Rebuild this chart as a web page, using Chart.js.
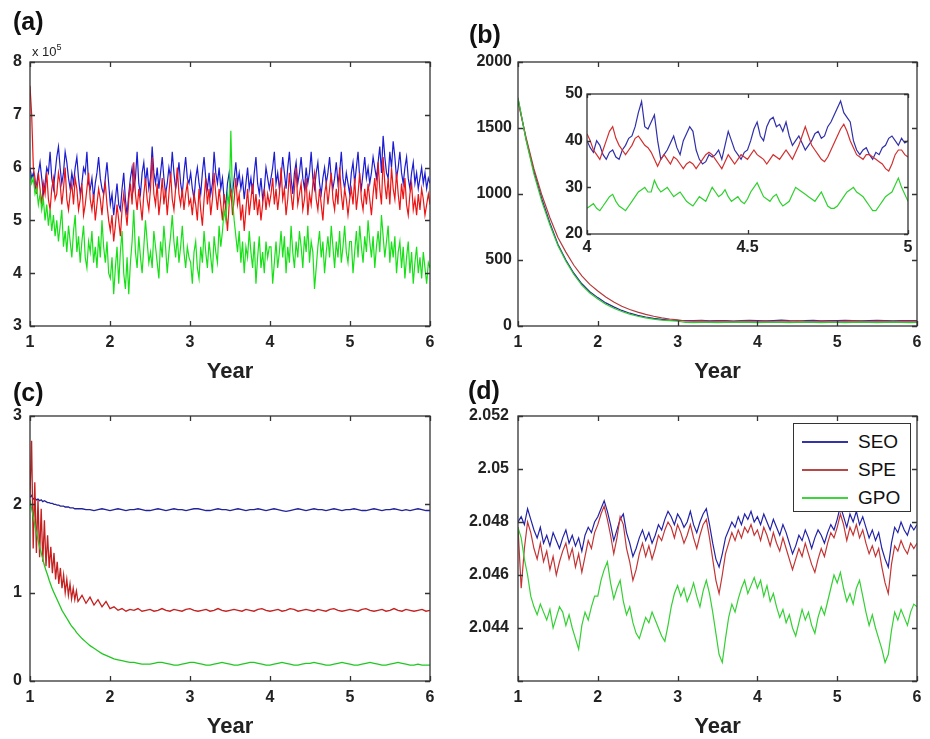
<!DOCTYPE html>
<html><head><meta charset="utf-8">
<script src="https://cdn.jsdelivr.net/npm/chart.js@4.4.0/dist/chart.umd.min.js"></script>
<style>
html,body{margin:0;padding:0;background:#fff;}
body{width:930px;height:739px;position:relative;overflow:hidden;font-family:"Liberation Sans",Arial,sans-serif;color:#111;}
canvas{position:absolute;}
.plab{position:absolute;font-weight:bold;font-size:25px;line-height:1;color:#111;z-index:5;}
#mult{position:absolute;left:32px;top:43px;font-size:13px;line-height:1;color:#222;z-index:5;}
#mult sup{font-size:9px;vertical-align:6px;}
#leg{position:absolute;left:793px;top:423px;width:116px;height:87px;border:1.5px solid #333;background:#fff;z-index:6;}
#leg .row{position:absolute;left:0;height:24px;width:116px;}
#leg .ln{position:absolute;left:8px;top:11px;width:46px;height:0;border-top:2px solid;}
#leg .tx{position:absolute;left:64px;top:0;font-size:19px;line-height:24px;color:#111;}
</style></head><body>
<canvas id="ca" width="465" height="392" style="left:0;top:0"></canvas>
<canvas id="cb" width="485" height="392" style="left:445px;top:0"></canvas>
<canvas id="cbi" width="370" height="185" style="left:550px;top:80px"></canvas>
<canvas id="cc" width="465" height="347" style="left:0;top:392px"></canvas>
<canvas id="cd" width="485" height="347" style="left:445px;top:392px"></canvas>
<div class="plab" style="left:13px;top:9px">(a)</div>
<div class="plab" style="left:469px;top:22px">(b)</div>
<div class="plab" style="left:13px;top:380px">(c)</div>
<div class="plab" style="left:468px;top:378px">(d)</div>
<div id="mult">x 10<sup>5</sup></div>
<div id="leg">
  <div class="row" style="top:6px"><div class="ln" style="border-color:#3434a8"></div><div class="tx">SEO</div></div>
  <div class="row" style="top:34px"><div class="ln" style="border-color:#b84848"></div><div class="tx">SPE</div></div>
  <div class="row" style="top:62px"><div class="ln" style="border-color:#3cd63c"></div><div class="tx">GPO</div></div>
</div>
<script>
// ---------- DATA ----------
const seriesNames = ['SEO', 'SPE', 'GPO'];
const xTicksYear = [1, 2, 3, 4, 5, 6];

// (a) values in units of 10^5, 48 samples per year
const aSEO = [6.0,5.8,5.9,5.6,5.7,5.9,6.1,5.8, 5.5,5.7,6.0,5.9,6.3,5.8,5.6,5.9, 6.2,6.4,6.0,5.7,5.9,6.3,6.1,5.8, 5.6,5.9,5.7,6.0,6.2,5.8,5.5,5.7, 6.0,5.9,6.3,5.7,5.6,5.8,5.4,5.7, 5.9,6.2,5.8,5.6,5.5,5.8,6.1,5.7,
5.3,5.5,5.1,5.4,5.7,5.3,5.2,5.6, 5.9,5.4,5.1,5.5,5.8,6.0,5.6,5.8, 6.3,5.7,5.5,5.9,6.1,5.7,6.0,5.6, 5.8,6.4,5.9,5.7,6.0,5.6,5.9,6.2, 5.8,5.5,5.7,6.0,5.8,6.3,5.9,5.6, 5.8,6.1,5.7,5.5,5.9,6.2,5.8,5.7,
5.9,5.6,5.4,5.8,6.0,5.7,5.5,5.9, 6.2,5.8,5.6,5.9,5.5,5.7,6.3,5.9, 5.7,6.0,5.6,5.8,5.4,5.3,5.7,5.9, 5.6,5.5,5.8,6.1,5.7,5.9,5.6,5.8, 5.4,5.7,6.0,5.6,5.8,5.5,5.9,6.2, 5.7,5.5,5.8,5.4,5.6,6.0,5.8,5.6,
5.8,6.0,6.3,5.7,5.9,5.6,5.8,6.2, 5.9,5.6,6.0,6.3,5.8,5.5,5.9,6.1, 5.7,5.9,6.2,5.8,5.6,6.0,5.7,5.9, 6.3,5.8,5.6,5.9,6.1,5.7,5.5,5.8, 6.0,5.7,5.9,6.2,5.8,5.6,5.8,6.1, 5.7,5.9,6.3,5.8,5.6,5.9,5.7,5.5,
5.9,6.1,5.7,6.0,6.3,5.8,5.6,5.9, 6.2,5.8,6.0,5.7,5.9,6.2,6.0,5.8, 6.1,6.4,5.9,6.6,6.2,5.9,5.8,6.3, 6.0,6.5,6.2,5.8,6.0,6.3,5.9,5.7, 6.0,6.2,5.8,5.6,5.9,6.1,5.7,5.9, 5.6,5.8,6.0,5.7,5.9,5.6,5.8,5.7];
const aSPE = [7.55,7.0,6.0,5.8,5.5,5.9,5.6,5.3, 5.7,5.5,5.9,5.4,5.2,5.6,5.8,5.4, 5.5,5.9,5.7,5.3,5.6,6.0,5.4,5.2, 5.5,5.7,5.3,5.8,5.6,5.2,5.4,5.7, 5.1,5.3,5.6,5.9,5.4,5.2,5.5,5.0, 5.3,5.6,5.4,5.1,5.5,5.7,5.3,5.0,
4.8,5.1,4.6,4.9,5.3,5.0,4.7,5.2, 5.5,5.2,4.9,5.4,5.7,5.3,6.1,5.5, 5.2,5.6,5.3,5.0,5.5,5.8,5.4,5.2, 5.6,6.2,5.5,5.3,5.7,5.1,5.4,5.8, 5.3,5.6,5.1,5.5,5.9,5.4,5.2,5.6, 6.0,5.5,5.3,5.6,5.2,5.5,5.7,5.3,
5.4,5.1,5.5,5.3,5.0,5.6,5.2,4.9, 5.4,5.8,5.3,5.6,5.1,5.4,5.9,5.5, 5.2,5.6,5.3,5.0,5.5,5.2,4.8,5.3, 5.6,5.1,5.4,5.8,5.3,5.5,5.0,5.3, 4.8,5.2,5.6,5.1,5.4,5.7,5.2,5.5, 5.1,5.4,5.0,5.3,5.6,5.2,5.5,5.3,
5.5,5.8,5.3,5.6,5.2,5.5,6.0,5.4, 5.6,5.1,5.4,5.9,5.5,5.2,5.6,6.0, 5.3,5.5,5.7,5.2,5.4,5.8,5.1,5.5, 5.3,5.7,5.9,5.4,5.2,5.6,5.3,5.0, 5.5,5.7,5.3,5.6,5.9,5.4,5.2,5.6, 5.3,6.0,5.5,5.2,5.6,5.4,5.1,5.4,
5.6,5.3,5.8,5.2,5.5,5.9,5.4,5.2, 5.6,5.3,5.7,5.4,5.1,5.5,5.8,5.4, 6.1,5.6,5.3,6.2,5.7,5.4,5.8,5.3, 6.0,5.6,5.4,5.9,5.5,5.2,5.7,5.4, 5.8,5.3,5.1,5.5,5.7,5.2,5.4,5.1, 5.5,5.2,5.6,5.4,5.1,5.3,5.5,5.3];
const aGPO = [5.9,5.7,5.8,5.5,5.6,5.3,5.5,5.2, 5.4,5.0,5.3,4.9,5.2,4.8,5.1,4.7, 5.0,4.6,4.9,5.2,4.5,4.8,4.4,4.9, 4.6,4.3,4.8,5.1,4.4,4.7,4.2,4.6, 4.9,4.3,4.1,4.6,4.4,4.8,4.2,4.5, 4.1,4.7,4.3,5.0,4.5,4.2,4.6,4.0,
3.9,4.3,3.6,4.1,4.5,3.8,4.4,4.8, 4.0,3.7,4.3,3.6,4.2,4.6,5.2,4.4, 4.1,4.7,4.3,4.0,4.5,5.0,4.6,4.2, 4.4,4.1,4.8,4.5,4.2,3.9,4.6,4.3, 4.9,4.5,4.0,4.4,4.7,5.1,4.6,4.3, 4.7,4.2,4.5,4.9,4.4,4.1,4.5,4.3,
4.2,3.8,4.4,4.6,4.1,3.9,4.5,4.2, 4.8,4.4,4.1,4.6,4.3,4.0,4.7,4.4, 4.2,4.9,4.5,4.8,5.2,5.0,5.5,5.3, 6.7,5.4,5.0,4.7,4.4,4.8,4.2,4.6, 4.0,4.5,4.3,4.8,4.4,4.1,4.6,3.8, 4.3,4.7,4.1,4.4,4.0,4.6,4.3,4.5,
4.5,3.8,4.2,4.6,4.1,4.4,4.8,4.3, 4.7,4.0,4.5,4.2,4.9,4.4,4.1,4.6, 4.3,4.8,4.5,4.1,4.7,4.4,4.9,4.2, 4.6,4.4,3.7,4.1,4.5,4.8,4.3,4.6, 4.0,4.4,4.7,4.3,4.9,4.5,4.1,4.6, 4.3,4.8,4.2,4.5,4.9,4.4,4.2,4.6,
4.6,4.0,4.4,4.8,4.3,4.9,4.5,4.2, 4.7,4.4,5.0,4.6,4.3,4.7,4.1,4.5, 4.8,4.4,5.1,4.7,4.3,4.6,4.9,4.2, 4.6,4.3,4.7,4.0,4.4,4.6,4.1,4.5, 3.9,4.3,4.6,4.0,4.4,3.8,4.2,4.5, 4.0,4.3,3.9,4.4,4.1,3.8,4.2,4.1];

// (b) sampled every 0.1 year from 1 to 6
const bSEO = [1720,1420,1170,960,780,620,500,400,320,260,215,175,145,118,97,80,68,58,50,45,42,
41,40,42,39,40,41,38,40,42,40,39,41,44,40,38,40,42,39,41,40,43,41,39,40,42,40,39,41,40,40];
const bSPE = [1700,1430,1190,990,820,670,560,460,380,315,265,220,182,150,125,105,88,74,62,53,47,
38,37,39,36,37,38,36,37,38,36,37,36,38,37,40,37,36,37,38,36,37,39,37,36,38,37,36,37,38,37];
const bGPO = [1730,1410,1150,940,765,610,490,390,310,250,205,165,135,110,90,74,62,52,45,40,36,
27,26,28,27,26,28,27,29,27,26,28,27,28,26,27,29,27,26,28,27,26,28,29,27,26,28,30,27,26,27];

// (b) inset, year 4 to 5 every 0.01
const insetSEO = [40,38.5,37.5,40,39,37,36,37.5,38,36.5,36,38,39,40.5,41,43,46,48.4,43,42.5,
44,45.5,40,36,37,38,39.5,41,38.5,37,40,41.5,43,42,38,36,35,35.5,37,36.5,
37,38,36,39,42,40,38,37,36,37.5,38,40,42.5,44,41,40,43,44.5,45,43,
43.5,42,44,41,39,40,41,39.5,38,39,40,41.5,42,40.5,41,43,44,45.5,47,48.5,
46,45,44,40,38,37,38,38.5,37,36,37.5,37,38.5,39,40.5,41,40,39,40.5,39.5,40];
const insetSPE = [41.5,40,38,37,36,38,40,42,43,40.5,39,38,37,38,39,40.5,41,40,39,38.5,
37.5,36,34.5,36,37,36,35,36.5,36,35,34,35,35.5,35,34,35,36,37,37.5,37,
36,35,34,35.5,37,36,35,36,37,36.5,36,37,38,37,36.5,36,35,36,37,36.5,
36,37,38,37,36,37.5,39,41,43,41,39,38,37,36,35.5,36.5,38,39.5,41,42.5,
43.5,42,40,38.5,37,36.5,36,37,37,36.5,36,35.5,35,34,33.5,35,37,38,38,37,36.5];
const insetGPO = [25.5,26,26.5,25.5,25,26,27,28,28.5,27,26,25.5,25,26,27,28,29,29.5,30,29,
29,31.5,30,29,29.5,30,29,28,28.5,29,28,27,26.5,26,27,28,27.5,27,28.5,30,
29,28,28.5,29.5,28,27,27.5,28,27,26.5,27.5,29,30,31,29.5,28,27.5,27,28,28.5,
27,26,26.5,27,28.5,30,29.5,29,28.5,28,27.5,27,28,29,27.5,26,25.5,25.5,26,27,
28,29,29.5,30,29,28.5,28,27,26,25,25,26,27,28,28.5,29,30.5,32,30,28.5,27];

// (c) first 31 samples every 0.02 year (1.00-1.60), then every 0.05 year (1.65-6.00)
const cSEO = [2.08,2.10,2.06,2.07,2.05,2.06,2.04,2.05,2.03,2.04,2.03,2.02,2.02,2.01,2.01,2.00,2.00,1.99,1.99,1.98,1.98,1.98,1.97,1.97,1.97,1.96,1.96,1.96,1.95,1.95,1.95,
1.95,1.94,1.94,1.93,1.94,1.95,1.94,1.93,1.94,1.95,1.94,1.93,1.94,1.94,1.95,1.94,1.93,1.93,1.94,1.95,
1.94,1.93,1.94,1.95,1.94,1.94,1.93,1.94,1.95,1.95,1.94,1.93,1.93,1.94,1.95,1.94,1.94,1.93,1.94,1.95,
1.94,1.93,1.94,1.94,1.95,1.94,1.93,1.94,1.95,1.94,1.93,1.92,1.93,1.94,1.95,1.94,1.93,1.94,1.95,1.94,
1.94,1.93,1.94,1.95,1.94,1.93,1.94,1.94,1.95,1.94,1.93,1.93,1.94,1.95,1.94,1.93,1.94,1.94,1.95,1.94,
1.93,1.94,1.93,1.94,1.95,1.94,1.93,1.93];
const cSPE = [2.10,2.72,1.50,2.25,1.45,2.05,1.40,1.95,1.35,1.82,1.30,1.65,1.28,1.52,1.22,1.45,1.15,1.35,1.10,1.28,1.05,1.20,1.00,1.15,0.97,1.10,0.93,1.05,0.92,1.02,0.90,
0.97,0.88,0.95,0.86,0.92,0.84,0.90,0.82,0.84,0.80,0.82,0.79,0.81,0.80,0.82,0.79,0.80,0.81,0.79,0.80,
0.82,0.80,0.79,0.81,0.80,0.79,0.81,0.82,0.80,0.79,0.80,0.81,0.79,0.80,0.82,0.80,0.79,0.80,0.81,0.80,
0.79,0.81,0.80,0.79,0.81,0.82,0.80,0.79,0.80,0.81,0.79,0.80,0.82,0.81,0.79,0.80,0.81,0.80,0.79,0.81,
0.80,0.79,0.81,0.82,0.80,0.79,0.80,0.81,0.80,0.79,0.81,0.82,0.80,0.79,0.80,0.81,0.79,0.80,0.82,0.80,
0.79,0.81,0.80,0.79,0.80,0.81,0.79,0.80];
const cGPO = [2.05,1.95,1.86,1.77,1.68,1.60,1.52,1.45,1.38,1.31,1.25,1.20,1.14,1.09,1.04,1.00,0.96,0.92,0.88,0.84,0.80,0.77,0.74,0.71,0.68,0.65,0.62,0.60,0.58,0.55,0.53,
0.48,0.44,0.40,0.37,0.34,0.31,0.29,0.27,0.25,0.24,0.23,0.22,0.21,0.21,0.20,0.19,0.19,0.19,0.20,0.21,
0.21,0.20,0.19,0.18,0.18,0.19,0.20,0.21,0.21,0.20,0.19,0.18,0.18,0.19,0.20,0.21,0.20,0.19,0.18,0.18,
0.19,0.20,0.21,0.21,0.20,0.19,0.18,0.18,0.19,0.20,0.21,0.20,0.19,0.18,0.18,0.19,0.20,0.20,0.21,0.20,
0.19,0.18,0.18,0.19,0.20,0.21,0.20,0.19,0.18,0.18,0.19,0.20,0.21,0.20,0.19,0.18,0.18,0.19,0.20,0.21,
0.20,0.19,0.18,0.18,0.19,0.18,0.18,0.18];

// (d) sampled every 0.04 year from 1 to 6
const dSEO = [2.0480,2.0482,2.0479,2.0485,2.0481,2.0477,2.0474,2.0478,2.0472,2.0475,2.0471,2.0476,2.0473,2.0470,2.0474,2.0477,2.0472,2.0475,2.0471,2.0474,2.0469,2.0475,2.0478,2.0476,2.0480,
2.0482,2.0485,2.0488,2.0484,2.0479,2.0473,2.0477,2.0481,2.0483,2.0476,2.0472,2.0467,2.0470,2.0474,2.0477,2.0473,2.0476,2.0472,2.0475,2.0479,2.0477,2.0481,2.0484,2.0482,2.0479,
2.0483,2.0481,2.0478,2.0480,2.0484,2.0479,2.0476,2.0480,2.0483,2.0485,2.0479,2.0472,2.0466,2.0463,2.0468,2.0474,2.0477,2.0480,2.0478,2.0482,2.0479,2.0483,2.0481,2.0484,2.0480,
2.0482,2.0479,2.0483,2.0480,2.0477,2.0481,2.0478,2.0475,2.0479,2.0476,2.0472,2.0468,2.0471,2.0475,2.0473,2.0477,2.0474,2.0470,2.0474,2.0477,2.0475,2.0472,2.0476,2.0479,2.0477,
2.0481,2.0486,2.0482,2.0478,2.0483,2.0480,2.0484,2.0479,2.0482,2.0478,2.0474,2.0477,2.0473,2.0476,2.0470,2.0466,2.0463,2.0472,2.0478,2.0476,2.0480,2.0477,2.0475,2.0479,2.0477,
2.0479];
const dSPE = [2.0478,2.0455,2.0470,2.0480,2.0476,2.0470,2.0466,2.0472,2.0465,2.0469,2.0462,2.0467,2.0460,2.0465,2.0469,2.0472,2.0466,2.0470,2.0463,2.0468,2.0461,2.0467,2.0473,2.0470,2.0476,
2.0479,2.0483,2.0486,2.0481,2.0475,2.0468,2.0474,2.0482,2.0479,2.0470,2.0465,2.0458,2.0462,2.0468,2.0472,2.0467,2.0471,2.0466,2.0470,2.0475,2.0473,2.0477,2.0480,2.0478,2.0474,
2.0479,2.0476,2.0472,2.0475,2.0479,2.0474,2.0470,2.0475,2.0479,2.0481,2.0474,2.0466,2.0458,2.0453,2.0460,2.0468,2.0472,2.0476,2.0473,2.0477,2.0474,2.0478,2.0476,2.0479,2.0475,
2.0477,2.0473,2.0478,2.0475,2.0471,2.0476,2.0472,2.0469,2.0474,2.0470,2.0466,2.0462,2.0466,2.0470,2.0467,2.0472,2.0468,2.0464,2.0461,2.0466,2.0470,2.0467,2.0472,2.0476,2.0474,
2.0478,2.0483,2.0479,2.0473,2.0478,2.0475,2.0479,2.0474,2.0477,2.0472,2.0468,2.0471,2.0467,2.0470,2.0463,2.0457,2.0453,2.0464,2.0471,2.0469,2.0473,2.0470,2.0468,2.0472,2.0470,
2.0472];
const dGPO = [2.0478,2.0474,2.0466,2.0460,2.0452,2.0448,2.0445,2.0449,2.0446,2.0443,2.0447,2.0440,2.0444,2.0448,2.0446,2.0441,2.0445,2.0440,2.0436,2.0432,2.0441,2.0446,2.0443,2.0448,2.0452,
2.0452,2.0458,2.0462,2.0465,2.0457,2.0451,2.0455,2.0458,2.0450,2.0445,2.0448,2.0442,2.0438,2.0436,2.0440,2.0444,2.0442,2.0446,2.0443,2.0440,2.0437,2.0435,2.0441,2.0448,2.0453,
2.0456,2.0452,2.0455,2.0450,2.0453,2.0457,2.0452,2.0448,2.0454,2.0458,2.0453,2.0446,2.0438,2.0430,2.0427,2.0436,2.0444,2.0449,2.0446,2.0451,2.0455,2.0458,2.0453,2.0456,2.0459,
2.0455,2.0458,2.0452,2.0456,2.0450,2.0453,2.0448,2.0444,2.0447,2.0442,2.0445,2.0440,2.0437,2.0442,2.0447,2.0443,2.0446,2.0441,2.0438,2.0444,2.0448,2.0445,2.0450,2.0455,2.0460,
2.0457,2.0461,2.0455,2.0450,2.0453,2.0449,2.0455,2.0458,2.0452,2.0446,2.0441,2.0445,2.0440,2.0436,2.0432,2.0427,2.0430,2.0439,2.0446,2.0443,2.0447,2.0444,2.0441,2.0446,2.0449,
2.0448];

// ---------- sampling grids (time axis) ----------
function uniformGrid(a, b, n) { const g = []; for (let i = 0; i < n; i++) g.push(a + (b - a) * i / (n - 1)); return g; }
const cYears = (function(){ const g = []; for (let i = 0; i < 31; i++) g.push(1 + 0.02 * i); for (let i = 1; g.length < cSEO.length; i++) g.push(1.6 + 0.05 * i); return g; })();

// ---------- drawing ----------
Chart.defaults.font.family = '"Liberation Sans", Arial, sans-serif';
Chart.defaults.color = '#222';

const boxTicks = {
  id: 'boxTicks',
  beforeDatasetsDraw(chart, args, opts) {
    if (opts.bg) { const a = chart.chartArea, ctx = chart.ctx; ctx.save(); ctx.fillStyle = opts.bg; ctx.fillRect(a.left, a.top, a.width, a.height); ctx.restore(); }
  },
  afterDatasetsDraw(chart, args, opts) {
    const { ctx, chartArea: a } = chart; const xs = chart.scales.x, ys = chart.scales.y; const L = opts.len || 5;
    ctx.save(); ctx.strokeStyle = '#333'; ctx.lineWidth = 1.3; ctx.beginPath();
    xs.ticks.forEach(t => { const p = Math.round(xs.getPixelForValue(t.value)) + 0.5;
      ctx.moveTo(p, a.bottom); ctx.lineTo(p, a.bottom - L); ctx.moveTo(p, a.top); ctx.lineTo(p, a.top + L); });
    ys.ticks.forEach(t => { const p = Math.round(ys.getPixelForValue(t.value)) + 0.5;
      ctx.moveTo(a.left, p); ctx.lineTo(a.left + L, p); ctx.moveTo(a.right, p); ctx.lineTo(a.right - L, p); });
    ctx.stroke();
    ctx.strokeRect(a.left, a.top, a.width, a.height);
    ctx.restore();
  }
};

function ds(xs, ys, color, order, w) {
  return { data: ys.map((v, i) => ({ x: xs[i], y: v })), borderColor: color, borderWidth: w, pointRadius: 0, fill: false, tension: 0, order: order, spanGaps: true };
}

function build(id, o) {
  return new Chart(document.getElementById(id), {
    type: 'line',
    data: { datasets: o.datasets },
    options: {
      responsive: false, animation: false, devicePixelRatio: 1,
      layout: { padding: o.pad },
      plugins: { legend: { display: false }, tooltip: { enabled: false }, boxTicks: { len: o.len || 5, bg: o.bg } },
      scales: {
        x: { type: 'linear', min: o.xmin, max: o.xmax, grid: { display: false, drawTicks: false }, border: { display: false },
          ticks: { stepSize: o.xstep, padding: o.xpad, font: { size: 16, weight: 'bold' }, color: '#222', maxRotation: 0, autoSkip: false,
            callback: v => String(Number(v.toFixed(3))) },
          title: o.title ? { display: true, text: 'Year', font: { size: 22, weight: 'bold', lineHeight: 1 }, color: '#222', padding: { top: 0, bottom: o.titlePad } } : { display: false },
          afterFit: s => { s.height = o.xh; } },
        y: { type: 'linear', min: o.ymin, max: o.ymax, grid: { display: false, drawTicks: false }, border: { display: false },
          ticks: { stepSize: o.ystep, padding: o.ypad, font: { size: 16, weight: 'bold' }, color: '#222', autoSkip: false,
            callback: o.yfmt || (v => String(Number(v.toFixed(4)))) },
          afterFit: s => { s.width = o.yw; } }
      }
    },
    plugins: [boxTicks]
  });
}

// (a)
const aYears = uniformGrid(1, 6, aSEO.length);
build('ca', { datasets: [ds(aYears, aSEO, '#1c1cd2', 3, 1.2), ds(aYears, aSPE, '#ec1414', 2, 1.2), ds(aYears, aGPO, '#18e018', 1, 1.2)],
  xmin: 1, xmax: 6, xstep: 1, ymin: 3, ymax: 8, ystep: 1, yw: 30, xh: 66, xpad: 7, ypad: 8,
  pad: { left: 0, top: 62, right: 35, bottom: 0 }, title: true, titlePad: 9 });

// (b)
const bYears = uniformGrid(1, 6, bSEO.length);
build('cb', { datasets: [ds(bYears, bSEO, '#2a2a96', 3, 1.2), ds(bYears, bSPE, '#b43a3a', 2, 1.2), ds(bYears, bGPO, '#30c830', 1, 1.2)],
  xmin: 1, xmax: 6, xstep: 1, ymin: 0, ymax: 2000, ystep: 500, yw: 73, xh: 66, xpad: 7, ypad: 6,
  pad: { left: 0, top: 62, right: 13, bottom: 0 }, title: true, titlePad: 9 });

// (b) inset
const insetYears = uniformGrid(4, 5, insetSEO.length);
build('cbi', { datasets: [ds(insetYears, insetSEO, '#3030aa', 3, 1.2), ds(insetYears, insetSPE, '#d03030', 2, 1.2), ds(insetYears, insetGPO, '#30d030', 1, 1.2)],
  xmin: 4, xmax: 5, xstep: 0.5, ymin: 20, ymax: 50, ystep: 10, yw: 37, xh: 31, xpad: 4, ypad: 4,
  pad: { left: 0, top: 14, right: 12, bottom: 0 }, title: false, bg: '#ffffff', len: 4 });

// (c)
build('cc', { datasets: [ds(cYears, cSEO, '#22229a', 3, 1.3), ds(cYears, cSPE, '#c42020', 2, 1.3), ds(cYears, cGPO, '#22c822', 1, 1.3)],
  xmin: 1, xmax: 6, xstep: 1, ymin: 0, ymax: 3, ystep: 1, yw: 30, xh: 58, xpad: 7, ypad: 8,
  pad: { left: 0, top: 24, right: 35, bottom: 0 }, title: true, titlePad: 1 });

// (d)
const dYears = uniformGrid(1, 6, dSEO.length);
build('cd', { datasets: [ds(dYears, dSEO, '#2222a8', 3, 1.2), ds(dYears, dSPE, '#c43434', 2, 1.2), ds(dYears, dGPO, '#34d034', 1, 1.2)],
  xmin: 1, xmax: 6, xstep: 1, ymin: 2.042, ymax: 2.052, ystep: 0.002, yw: 73, xh: 58, xpad: 7, ypad: 9,
  pad: { left: 0, top: 24, right: 13, bottom: 0 }, title: true, titlePad: 1,
  yfmt: v => (Math.abs(v - 2.042) < 1e-7 ? '' : String(Number(v.toFixed(3)))) });
</script>
</body></html>
